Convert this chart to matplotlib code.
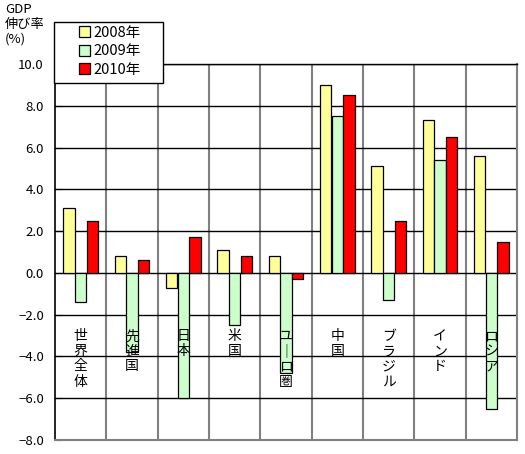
import numpy as np
import matplotlib.pyplot as plt
from matplotlib.patches import Rectangle
from matplotlib.ticker import MultipleLocator, FixedLocator

plt.rcParams['font.family'] = ['Noto Sans CJK JP', 'DejaVu Sans']

categories = ['世界全体', '先進国', '日本', '米国', 'ユーロ圏', '中国', 'ブラジル', 'インド', 'ロシア']
years = ['2008年', '2009年', '2010年']
g2008 = [3.1, 0.8, -0.7, 1.1, 0.8, 9.0, 5.1, 7.3, 5.6]
g2009 = [-1.4, -3.8, -6.0, -2.5, -4.8, 7.5, -1.3, 5.4, -6.5]
g2010 = [2.5, 0.6, 1.7, 0.8, -0.3, 8.5, 2.5, 6.5, 1.5]
colors = ['#FFFF99', '#CCFFCC', '#FF0000']


def main():
    fig = plt.figure(figsize=(5.25, 4.54), dpi=100)
    ax = fig.add_axes([55/525, 14/454, 462/525, 376/454])
    x = np.arange(len(categories))
    w = 0.22
    for k, (vals, col, lab) in enumerate(zip([g2008, g2009, g2010], colors, years)):
        ax.bar(x + (k - 1) * 0.23, vals, w, color=col, edgecolor='black',
               linewidth=0.9, label=lab, zorder=3)

    ax.set_xlim(-0.5, len(categories) - 0.5)
    ax.set_ylim(-8, 10)
    ax.yaxis.set_major_locator(MultipleLocator(2))
    ax.set_yticklabels([f'{v:.1f}'.replace('-', '\u2212') for v in ax.get_yticks()])
    ax.set_xticks([])
    ax.xaxis.set_minor_locator(FixedLocator(x[:-1] + 0.5))
    ax.grid(axis='y', which='major', color='black', linewidth=1, zorder=0)
    ax.grid(axis='x', which='minor', color='#808080', linewidth=1.5, zorder=0)
    ax.tick_params(axis='x', which='both', length=0)
    ax.tick_params(axis='y', direction='in', length=5, labelsize=9.5, pad=8)
    for s in ['right', 'bottom']:
        ax.spines[s].set_color('#808080')
        ax.spines[s].set_linewidth(1.5)
    ax.spines['left'].set_linewidth(1.2)
    ax.spines['top'].set_linewidth(1)

    for i, name in enumerate(categories):
        txt = '\n'.join(name.replace('ー', '｜'))
        ax.text(i, -2.7, txt, ha='center', va='top', fontsize=10,
                linespacing=1.1, zorder=4)

    fig.text(5/525, 1 - 3/454, 'GDP\n伸び率\n(%)', ha='left', va='top',
             fontsize=9.5, linespacing=1.2)

    # legend frame drawn by hand (wide Excel-style box)
    frame = Rectangle((54/525, 1 - 83/454), 109/525, 61/454,
                      transform=fig.transFigure, facecolor='white',
                      edgecolor='black', linewidth=1, clip_on=False, zorder=4.5)
    ax.add_patch(frame)
    leg = ax.legend(loc='upper left', bbox_to_anchor=(76/525, 1 - 23/454),
                    bbox_transform=fig.transFigure, borderaxespad=0,
                    frameon=False, fontsize=10.5, handlelength=0.75,
                    handleheight=0.75, handletextpad=0.25, labelspacing=0.3,
                    borderpad=0.2)
    leg.set_zorder(5)

    fig.savefig('out.png', dpi=100)


if __name__ == '__main__':
    main()
